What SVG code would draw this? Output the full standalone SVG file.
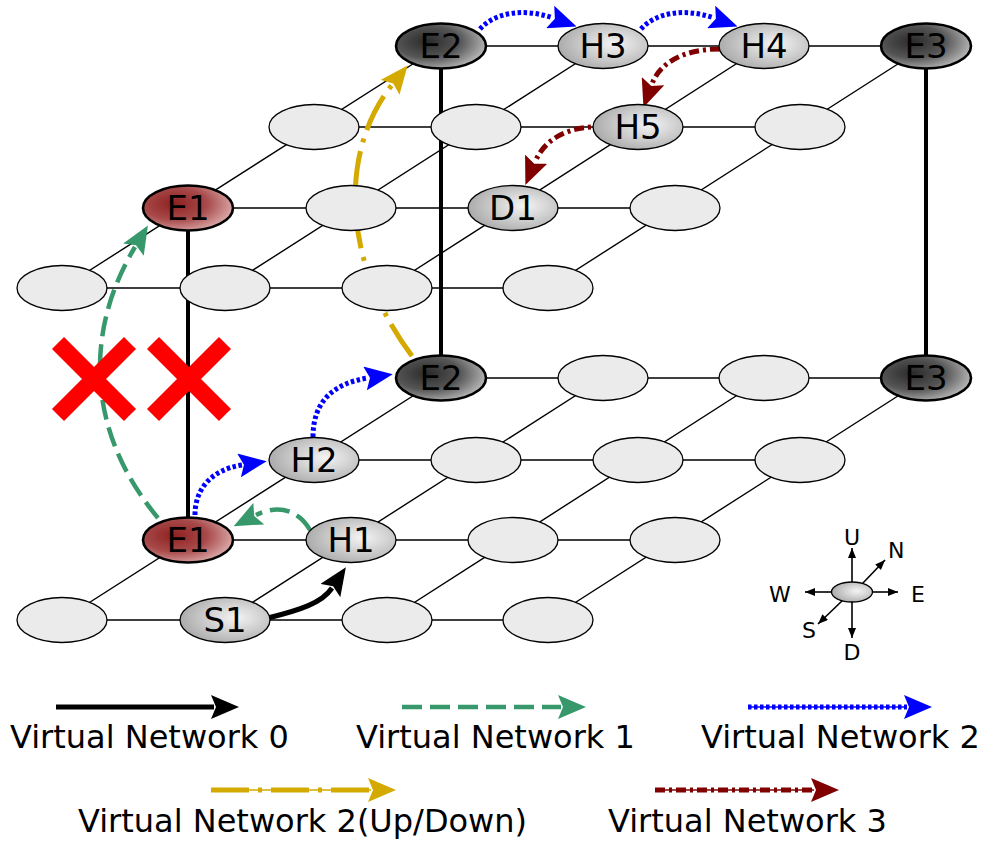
<svg xmlns="http://www.w3.org/2000/svg" width="981" height="841" viewBox="0 0 981 841">
<style>
.mesh{stroke:#000;stroke-width:1.4;fill:none}
.pillar{stroke:#000;stroke-width:4;fill:none}
.n{stroke:#000;stroke-width:1.3}
.plain{fill:#ebebeb}
.gray{fill:url(#gGray)}
.dark{fill:url(#gDark);stroke-width:2.6}
.red{fill:url(#gRed);stroke-width:2.6}
.lbl{font-family:"DejaVu Sans","Liberation Sans",sans-serif;font-size:34px;text-anchor:middle;fill:#000}
.leg{font-family:"DejaVu Sans","Liberation Sans",sans-serif;font-size:32px;fill:#000}
.cmp{font-family:"DejaVu Sans","Liberation Sans",sans-serif;font-size:22px;fill:#000}
.vn0{stroke:#000;stroke-width:5;fill:none;marker-end:url(#aBlack)}
.vn1{stroke:#37996b;stroke-width:4.5;fill:none;stroke-dasharray:20,8;marker-end:url(#aGreen)}
.vn2{stroke:#0000ff;stroke-width:5;fill:none;stroke-dasharray:3.5,2.5;marker-end:url(#aBlue)}
.vn2ud{stroke:#d4aa00;stroke-width:5;fill:none;stroke-dasharray:38,9,4,9;marker-end:url(#aGold)}
.vn3{stroke:#800000;stroke-width:5;fill:none;stroke-dasharray:10,4,3,4;marker-end:url(#aRed)}
.thin{stroke-width:1.5;fill:none}
.x{stroke:#ff0000;stroke-width:17;fill:none}
.ca{stroke:#000;stroke-width:1.6;fill:none;marker-end:url(#aSmall)}
</style>
<defs>
<radialGradient id="gGray" cx="0.62" cy="0.45" r="0.65">
<stop offset="0" stop-color="#f4f4f4"/>
<stop offset="1" stop-color="#a8a8a8"/>
</radialGradient>
<radialGradient id="gDark" cx="0.35" cy="0.4" r="0.8">
<stop offset="0" stop-color="#2a2a2a"/>
<stop offset="0.45" stop-color="#555"/>
<stop offset="1" stop-color="#e0e0e0"/>
</radialGradient>
<radialGradient id="gRed" cx="0.35" cy="0.4" r="0.8">
<stop offset="0" stop-color="#8e2020"/>
<stop offset="0.45" stop-color="#a84a4a"/>
<stop offset="1" stop-color="#f0d0d0"/>
</radialGradient>
<marker id="aBlack" markerUnits="userSpaceOnUse" markerWidth="28" markerHeight="24" viewBox="0 0 28 24" refX="3" refY="12" orient="auto"><path d="M0,0 L28,12 L0,24 L5,12 Z" fill="#000"/></marker>
<marker id="aGreen" markerUnits="userSpaceOnUse" markerWidth="28" markerHeight="24" viewBox="0 0 28 24" refX="3" refY="12" orient="auto"><path d="M0,0 L28,12 L0,24 L5,12 Z" fill="#37996b"/></marker>
<marker id="aBlue" markerUnits="userSpaceOnUse" markerWidth="28" markerHeight="24" viewBox="0 0 28 24" refX="3" refY="12" orient="auto"><path d="M0,0 L28,12 L0,24 L5,12 Z" fill="#0000ff"/></marker>
<marker id="aGold" markerUnits="userSpaceOnUse" markerWidth="28" markerHeight="24" viewBox="0 0 28 24" refX="3" refY="12" orient="auto"><path d="M0,0 L28,12 L0,24 L5,12 Z" fill="#d4aa00"/></marker>
<marker id="aRed" markerUnits="userSpaceOnUse" markerWidth="28" markerHeight="24" viewBox="0 0 28 24" refX="3" refY="12" orient="auto"><path d="M0,0 L28,12 L0,24 L5,12 Z" fill="#800000"/></marker>
<marker id="aSmall" markerUnits="userSpaceOnUse" markerWidth="10" markerHeight="8" viewBox="0 0 10 8" refX="10" refY="4" orient="auto"><path d="M0,0 L10,4 L0,8 Z" fill="#000"/></marker>
</defs>
<rect width="981" height="841" fill="#fff"/>
<g id="mesh">
<path class="mesh" d="M441,378 H926 M314,460 H800 M188,540 H675 M62,620 H548"/>
<path class="mesh" d="M441,46 H926 M314,127 H800 M188,208 H675 M62,288 H548"/>
<path class="mesh" d="M62,620 L441,378 M225,620 L603,378 M387,620 L764,378 M548,620 L926,378"/>
<path class="mesh" d="M62,288 L441,46 M225,288 L603,46 M387,288 L764,46 M548,288 L926,46"/>
<path class="pillar" d="M188,208 V540 M441,46 V378 M926,46 V378"/>
</g>
<g id="connectors">
<path class="vn0" d="M268,618 C300,610 322,603 332,588"/>
<path class="vn1" d="M310,530 C300,512 280,503 256,515"/>
<path class="vn1" d="M158,518 C85,430 85,330 135,247"/>
<path class="vn2" d="M195,515 C195,490 210,470 242,465"/>
<path class="vn2" d="M313,437 C313,400 335,383 368,378"/>
<path class="vn2ud" d="M412,356 C340,260 340,150 392,85"/>
<path class="vn2" d="M480,29 C495,12 525,8 553,18"/>
<path class="vn2" d="M641,29 C656,12 686,8 714,18"/>
<path class="vn3" d="M720,49 C685,49 660,62 652,84"/>
<path class="vn3" d="M605,127 C570,125 545,138 535,162"/>
</g>
<g id="failures">
<path class="x" d="M58,343 L130,415 M130,343 L58,415"/>
<path class="x" d="M153,343 L225,415 M225,343 L153,415"/>
</g>
<g id="nodes">
<g id="t00"><ellipse class="n dark" cx="441" cy="46" rx="45" ry="22.5"/><text class="lbl" x="441" y="58">E2</text></g>
<g id="t01"><ellipse class="n gray" cx="603" cy="46" rx="45" ry="22.5"/><text class="lbl" x="603" y="58">H3</text></g>
<g id="t02"><ellipse class="n gray" cx="764" cy="46" rx="45" ry="22.5"/><text class="lbl" x="764" y="58">H4</text></g>
<g id="t03"><ellipse class="n dark" cx="926" cy="46" rx="45" ry="22.5"/><text class="lbl" x="926" y="58">E3</text></g>
<g id="t10"><ellipse class="n plain" cx="314" cy="127" rx="45" ry="22.5"/></g>
<g id="t11"><ellipse class="n plain" cx="476" cy="127" rx="45" ry="22.5"/></g>
<g id="t12"><ellipse class="n gray" cx="638" cy="127" rx="45" ry="22.5"/><text class="lbl" x="638" y="139">H5</text></g>
<g id="t13"><ellipse class="n plain" cx="800" cy="127" rx="45" ry="22.5"/></g>
<g id="t20"><ellipse class="n red" cx="188" cy="208" rx="45" ry="22.5"/><text class="lbl" x="188" y="220">E1</text></g>
<g id="t21"><ellipse class="n plain" cx="351" cy="208" rx="45" ry="22.5"/></g>
<g id="t22"><ellipse class="n gray" cx="513" cy="208" rx="45" ry="22.5"/><text class="lbl" x="513" y="220">D1</text></g>
<g id="t23"><ellipse class="n plain" cx="675" cy="208" rx="45" ry="22.5"/></g>
<g id="t30"><ellipse class="n plain" cx="62" cy="288" rx="45" ry="22.5"/></g>
<g id="t31"><ellipse class="n plain" cx="225" cy="288" rx="45" ry="22.5"/></g>
<g id="t32"><ellipse class="n plain" cx="387" cy="288" rx="45" ry="22.5"/></g>
<g id="t33"><ellipse class="n plain" cx="548" cy="288" rx="45" ry="22.5"/></g>
<g id="b00"><ellipse class="n dark" cx="441" cy="378" rx="45" ry="22.5"/><text class="lbl" x="441" y="390">E2</text></g>
<g id="b01"><ellipse class="n plain" cx="603" cy="378" rx="45" ry="22.5"/></g>
<g id="b02"><ellipse class="n plain" cx="764" cy="378" rx="45" ry="22.5"/></g>
<g id="b03"><ellipse class="n dark" cx="926" cy="378" rx="45" ry="22.5"/><text class="lbl" x="926" y="390">E3</text></g>
<g id="b10"><ellipse class="n gray" cx="314" cy="460" rx="45" ry="22.5"/><text class="lbl" x="314" y="472">H2</text></g>
<g id="b11"><ellipse class="n plain" cx="476" cy="460" rx="45" ry="22.5"/></g>
<g id="b12"><ellipse class="n plain" cx="638" cy="460" rx="45" ry="22.5"/></g>
<g id="b13"><ellipse class="n plain" cx="800" cy="460" rx="45" ry="22.5"/></g>
<g id="b20"><ellipse class="n red" cx="188" cy="540" rx="45" ry="22.5"/><text class="lbl" x="188" y="552">E1</text></g>
<g id="b21"><ellipse class="n gray" cx="351" cy="540" rx="45" ry="22.5"/><text class="lbl" x="351" y="552">H1</text></g>
<g id="b22"><ellipse class="n plain" cx="513" cy="540" rx="45" ry="22.5"/></g>
<g id="b23"><ellipse class="n plain" cx="675" cy="540" rx="45" ry="22.5"/></g>
<g id="b30"><ellipse class="n plain" cx="62" cy="620" rx="45" ry="22.5"/></g>
<g id="b31"><ellipse class="n gray" cx="225" cy="620" rx="45" ry="22.5"/><text class="lbl" x="225" y="632">S1</text></g>
<g id="b32"><ellipse class="n plain" cx="387" cy="620" rx="45" ry="22.5"/></g>
<g id="b33"><ellipse class="n plain" cx="548" cy="620" rx="45" ry="22.5"/></g>
</g>
<g id="compass">
<path class="ca" d="M852,582 V548"/>
<path class="ca" d="M862,584 L885,560"/>
<path class="ca" d="M872,592 H898"/>
<path class="ca" d="M832,592 H805"/>
<path class="ca" d="M843,600 L818,624"/>
<path class="ca" d="M852,602 V638"/>
<ellipse class="n gray" cx="852" cy="592" rx="20.5" ry="10"/>
<text class="cmp" x="852" y="545" text-anchor="middle">U</text>
<text class="cmp" x="888" y="558">N</text>
<text class="cmp" x="911" y="602">E</text>
<text class="cmp" x="769" y="602">W</text>
<text class="cmp" x="802" y="638">S</text>
<text class="cmp" x="852" y="660" text-anchor="middle">D</text>
</g>
<g id="legend">
<path class="vn0" d="M56,707 H214" stroke-width="4.5"/>
<text class="leg" x="10" y="748">Virtual Network 0</text>
<path class="vn1" d="M402,707 H561"/>
<text class="leg" x="356" y="748">Virtual Network 1</text>
<path class="thin" stroke="#0000ff" d="M748,707 H907"/>
<path class="vn2" d="M748,707 H907"/>
<text class="leg" x="701" y="748">Virtual Network 2</text>
<path class="thin" stroke="#d4aa00" d="M211,790 H371"/>
<path class="vn2ud" d="M211,790 H371"/>
<text class="leg" x="78" y="832">Virtual Network 2(Up/Down)</text>
<path class="thin" stroke="#800000" d="M655,790 H814"/>
<path class="vn3" d="M655,790 H814"/>
<text class="leg" x="608" y="832">Virtual Network 3</text>
</g>
</svg>
